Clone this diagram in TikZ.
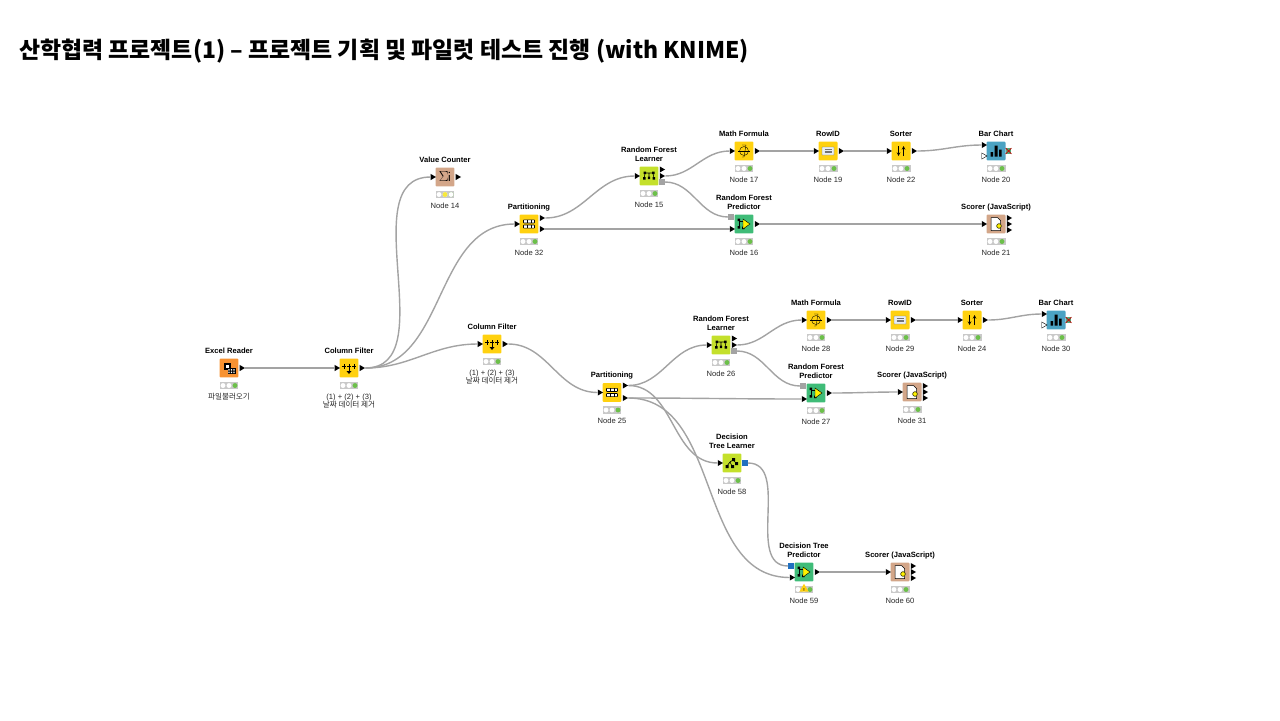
\documentclass[tikz,border=0pt]{standalone}
\usepackage{fontspec}
\setmainfont{Liberation Sans}
\newfontfamily\krfont{Noto Sans CJK KR}
\usetikzlibrary{calc,shapes.geometric}
\definecolor{wiregray}{HTML}{A3A3A3}
\definecolor{lampgray}{HTML}{C9C9C9}
\definecolor{lampgreen}{HTML}{6CC04A}
\definecolor{lampyellow}{HTML}{F7E93A}
\definecolor{readerorange}{HTML}{F79232}
\definecolor{manipyellow}{HTML}{FFD10F}
\definecolor{othertan}{HTML}{D3A689}
\definecolor{learnerlime}{HTML}{C4E02B}
\definecolor{predictgreen}{HTML}{3FBC78}
\definecolor{viewblue}{HTML}{4BA3C3}
\definecolor{modelblue}{HTML}{1F6FC0}
\definecolor{rowpale}{HTML}{E8EEF4}
\tikzset{
  kbox/.style={rectangle,rounded corners=1.5pt,minimum size=27pt,inner sep=0pt},
  ktitle/.style={font=\fontsize{10.8}{12.2}\selectfont\bfseries,align=center,anchor=south,inner sep=0pt,text depth=2.4pt},
  klabel/.style={font=\fontsize{10.8}{12}\selectfont,align=center,anchor=north,inner sep=0pt,text=black!85},
  kstate/.style={rectangle,fill=lampgray,minimum width=27pt,minimum height=11pt,inner sep=0pt},
  klamp/.style={circle,fill=white,minimum size=7pt,inner sep=0pt},
  kport/.style={isosceles triangle,isosceles triangle apex angle=60,fill=black,minimum height=7.5pt,inner sep=0pt},
  kopen/.style={kport,fill=white,draw=black,line width=.6pt},
  ksquare/.style={rectangle,minimum size=8pt,inner sep=0pt},
  wire/.style={draw=wiregray,line width=2pt,out=0,in=180},
  glyph/.style={line width=.9pt,black},
}
% box, state lamps and both captions of one workflow node
\newcommand{\knode}[6]{
  \node[kbox,fill=#4] (#1) at (#2,#3) {};
  \node[ktitle] (#1-title) at ($(#1.center)+(0,-12.8)$) {#5};
  \node[kstate] (#1-t) at ($(#1.center)+(0,17.5)$) {};
  \node[klamp] (#1-a) at ($(#1-t.center)+(-6,0)$) {};
  \node[klamp] (#1-b) at (#1-t.center) {};
  \node[klamp,fill=lampgreen] (#1-c) at ($(#1-t.center)+(6,0)$) {};
  \node[klabel] (#1-label) at ($(#1.center)+(0,25.5)$) {#6};
}
\newcommand{\inport}[3]{\node[kport,anchor=center] (#1) at ($(#2.center)+(-12.5,#3)$) {};}
\newcommand{\outport}[3]{\node[kport,anchor=center] (#1) at ($(#2.center)+(12.5,#3)$) {};}
% icons, drawn round the centre of a box
\newcommand{\iconfilter}[1]{\begin{scope}[shift={(#1)},glyph]
  \draw (-5,-4) -- (-5,1) (0,-4) -- (0,4) (5,-4) -- (5,1) (-7,-1.5) -- (-3,-1.5) (-2,-1.5) -- (2,-1.5) (3,-1.5) -- (7,-1.5);
  \fill (-2.5,3) -- (2.5,3) -- (0,6) -- cycle;
\end{scope}}
\newcommand{\iconparts}[1]{\begin{scope}[shift={(#1)}]
  \draw[fill=white,line width=.8pt,rounded corners=.6pt] (-5.5,-4.2) rectangle (5.5,-1) (-5.5,1) rectangle (5.5,4.2);
  \draw[line width=.6pt] (-1.8,-4.2) -- (-1.8,-1) (1.8,-4.2) -- (1.8,-1) (-1.8,1) -- (-1.8,4.2) (1.8,1) -- (1.8,4.2);
\end{scope}}
\newcommand{\icontree}[1]{\begin{scope}[shift={(#1)},glyph]
  \draw (-2,-1) -- (1,-3) -- (4,0) (-2,-1) -- (-5,3) (-2,-1) -- (0,3);
  \fill (0,-5) rectangle (3,-2) (-6.5,2) rectangle (-3.5,5) (-1,2) rectangle (2,5) (3,-1) rectangle (6,2);
\end{scope}}
\newcommand{\iconforest}[1]{\begin{scope}[shift={(#1)},glyph,line width=.8pt]
  \draw (-3,-3) -- (3,-3) (-4,-3) -- (-5,3) (4,-3) -- (5,3) (0,-3) -- (0,2);
  \fill (-5.5,-4.5) rectangle (-3,-2) (3,-4.5) rectangle (5.5,-2) (-6,1) rectangle (-3.5,3.5) (3.5,1) rectangle (6,3.5) (-1.2,.5) rectangle (1.2,3);
\end{scope}}
\newcommand{\iconpredict}[1]{\begin{scope}[shift={(#1)},glyph,line width=.7pt]
  \draw (-5,-4) -- (-5,4) (-5,-3) -- (-1,-3);
  \fill (-6.5,-5.5) rectangle (-4,-3) (-6.5,2) rectangle (-4,4.5) (-2,2.5) rectangle (.5,5);
  \draw[fill=yellow,line width=.6pt] (-1,-5) -- (6,0) -- (-1,5) -- cycle;
\end{scope}}
\newcommand{\iconscorer}[1]{\begin{scope}[shift={(#1)}]
  \draw[fill=white,line width=.7pt] (-5,-6.5) -- (1.5,-6.5) -- (4.5,-3.5) -- (4.5,6.5) -- (-5,6.5) -- cycle;
  \node[star,star points=8,fill=yellow,draw=black,line width=.4pt,minimum size=8pt,inner sep=0pt] (#1-star) at (3,2) {};
\end{scope}}
\newcommand{\iconbars}[1]{\begin{scope}[shift={(#1)}]
  \fill[black] (-5.5,1) rectangle (-3,5.5) (-1.5,-5.5) rectangle (1.5,5.5) (3,-1.5) rectangle (5.5,5.5);
\end{scope}}
\newcommand{\iconsort}[1]{\begin{scope}[shift={(#1)},glyph,line width=1.3pt,>=stealth]
  \draw[->] (-2.5,-5) -- (-2.5,5);
  \draw[->] (2.5,5) -- (2.5,-5);
\end{scope}}
\newcommand{\iconmath}[1]{\begin{scope}[shift={(#1)},glyph,line width=.5pt]
  \draw (0,0) circle (4.5);
  \draw (-2,-6) -- (2,-6) -- (0,6) -- (-2,6);
  \draw (-6,0) -- (6,0);
\end{scope}}
\newcommand{\iconrow}[1]{\begin{scope}[shift={(#1)}]
  \draw[draw=black!55,fill=rowpale,line width=.5pt,rounded corners=.5pt] (-6,-4) rectangle (6,4);
  \draw[black!55,line width=.5pt] (-3.5,-1.5) -- (3.5,-1.5) (-3.5,0) -- (3.5,0) (-3.5,1.5) -- (3.5,1.5);
\end{scope}}
\newcommand{\iconsheet}[1]{\begin{scope}[shift={(#1)}]
  \fill[black] (-5.5,-5) rectangle (2,2);
  \fill[white] (-3.5,-3) rectangle (0,0);
  \fill[black] (-1,0) rectangle (7,6);
  \foreach \i in {0,2.5,5}{\fill[white] (\i-.6,1) rectangle (\i+.6,2.6) (\i-.6,3.5) rectangle (\i+.6,5.1);}
\end{scope}}
\begin{document}
\begin{tikzpicture}[x=.05cm,y=-.05cm]
  \useasboundingbox (0,0) rectangle (1280,720);
  \node[anchor=west,inner sep=0pt,font=\krfont\bfseries\fontsize{32.6}{36}\selectfont] (heading) at (19,51)
    {산학협력 프로젝트(1) – 프로젝트 기획 및 파일럿 테스트 진행 (with KNIME)};

  % first row
  \knode{reader}{229}{368}{readerorange}{Excel Reader}{\krfont 파일불러오기}
  \knode{filterA}{349}{368}{manipyellow}{Column Filter}{(1) + (2) + (3)\\\krfont 날짜 데이터 제거}
  \knode{n14}{445}{177}{othertan}{Value Counter}{Node 14}
  \knode{n32}{529}{224}{manipyellow}{Partitioning}{Node 32}
  \knode{n15}{649}{176}{learnerlime}{Random Forest\\Learner}{Node 15}
  \knode{n16}{744}{224}{predictgreen}{Random Forest\\Predictor}{Node 16}
  \knode{n17}{744}{151}{manipyellow}{Math Formula}{Node 17}
  \knode{n19}{828}{151}{manipyellow}{RowID}{Node 19}
  \knode{n22}{901}{151}{manipyellow}{Sorter}{Node 22}
  \knode{n20}{996}{151}{viewblue}{Bar Chart}{Node 20}
  \knode{n21}{996}{224}{othertan}{Scorer (JavaScript)}{Node 21}
  % second row
  \knode{filterB}{492}{344}{manipyellow}{Column Filter}{(1) + (2) + (3)\\\krfont 날짜 데이터 제거}
  \knode{n25}{612}{392.5}{manipyellow}{Partitioning}{Node 25}
  \knode{n26}{721}{345}{learnerlime}{Random Forest\\Learner}{Node 26}
  \knode{n27}{816}{393}{predictgreen}{Random Forest\\Predictor}{Node 27}
  \knode{n28}{816}{320}{manipyellow}{Math Formula}{Node 28}
  \knode{n29}{900}{320}{manipyellow}{RowID}{Node 29}
  \knode{n24}{972}{320}{manipyellow}{Sorter}{Node 24}
  \knode{n30}{1056}{320}{viewblue}{Bar Chart}{Node 30}
  \knode{n31}{912}{392}{othertan}{Scorer (JavaScript)}{Node 31}
  % decision tree
  \knode{n58}{732}{463}{learnerlime}{Decision\\Tree Learner}{Node 58}
  \knode{n59}{804}{572}{predictgreen}{Decision Tree\\Predictor}{Node 59}
  \knode{n60}{900}{572}{othertan}{Scorer (JavaScript)}{Node 60}

  % state lamps that differ
  \node[klamp] (n14-c2) at (n14-c) {};
  \node[klamp,fill=lampyellow] (n14-b2) at (n14-b) {};
  \node[regular polygon,regular polygon sides=3,fill=manipyellow,minimum size=15pt,inner sep=0pt] (n59-warn) at ($(n59-t.center)+(0,-.5)$) {};
  \node[font=\fontsize{6}{6}\selectfont\bfseries,inner sep=0pt] (n59-mark) at ($(n59-t.center)+(0,.5)$) {!};

  % icons
  \iconsheet{reader}
  \iconfilter{filterA} \iconfilter{filterB}
  \node[font=\fontsize{20}{20}\selectfont,inner sep=0pt] (n14-sum) at (n14) {$\Sigma$\hspace{-1pt}\textsf{i}};
  \iconparts{n32} \iconparts{n25}
  \iconforest{n15} \iconforest{n26}
  \icontree{n58}
  \iconpredict{n16} \iconpredict{n27} \iconpredict{n59}
  \iconmath{n17} \iconmath{n28}
  \iconrow{n19} \iconrow{n29}
  \iconsort{n22} \iconsort{n24}
  \iconbars{n20} \iconbars{n30}
  \iconscorer{n21} \iconscorer{n31} \iconscorer{n60}

  % ports
  \outport{reader-o}{reader}{0}
  \inport{filterA-i}{filterA}{0} \outport{filterA-o}{filterA}{0}
  \inport{n14-i}{n14}{0} \outport{n14-o}{n14}{0}
  \inport{n32-i}{n32}{0} \outport{n32-o}{n32}{-6} \outport{n32-p}{n32}{5}
  \inport{n15-i}{n15}{0} \outport{n15-o}{n15}{-6.5} \outport{n15-p}{n15}{0}
  \node[ksquare,fill=wiregray] (n15-m) at ($(n15.center)+(13,6)$) {};
  \inport{n16-i}{n16}{5} \outport{n16-o}{n16}{0}
  \node[ksquare,fill=wiregray] (n16-m) at ($(n16.center)+(-13,-7)$) {};
  \inport{n17-i}{n17}{0} \outport{n17-o}{n17}{0}
  \inport{n19-i}{n19}{0} \outport{n19-o}{n19}{0}
  \inport{n22-i}{n22}{0} \outport{n22-o}{n22}{0}
  \inport{n20-i}{n20}{-6} \node[kopen,anchor=center] (n20-open) at ($(n20.center)+(-12.5,5)$) {};
  \inport{n21-i}{n21}{0} \outport{n21-a}{n21}{-6} \outport{n21-b}{n21}{0} \outport{n21-c}{n21}{6}

  \inport{filterB-i}{filterB}{0} \outport{filterB-o}{filterB}{0}
  \inport{n25-i}{n25}{0} \outport{n25-o}{n25}{-7} \outport{n25-p}{n25}{5.5}
  \inport{n26-i}{n26}{0} \outport{n26-o}{n26}{-6.5} \outport{n26-p}{n26}{0}
  \node[ksquare,fill=wiregray] (n26-m) at ($(n26.center)+(13,6)$) {};
  \inport{n27-i}{n27}{6} \outport{n27-o}{n27}{0}
  \node[ksquare,fill=wiregray] (n27-m) at ($(n27.center)+(-13,-7)$) {};
  \inport{n28-i}{n28}{0} \outport{n28-o}{n28}{0}
  \inport{n29-i}{n29}{0} \outport{n29-o}{n29}{0}
  \inport{n24-i}{n24}{0} \outport{n24-o}{n24}{0}
  \inport{n30-i}{n30}{-6} \node[kopen,anchor=center] (n30-open) at ($(n30.center)+(-12.5,5)$) {};
  \inport{n31-i}{n31}{0} \outport{n31-a}{n31}{-6} \outport{n31-b}{n31}{0} \outport{n31-c}{n31}{6}

  \inport{n58-i}{n58}{0}
  \node[ksquare,fill=modelblue] (n58-m) at ($(n58.center)+(13,0)$) {};
  \node[ksquare,fill=modelblue] (n59-m) at ($(n59.center)+(-13,-6)$) {};
  \inport{n59-i}{n59}{5.5} \outport{n59-o}{n59}{0}
  \inport{n60-i}{n60}{0} \outport{n60-a}{n60}{-6} \outport{n60-b}{n60}{0} \outport{n60-c}{n60}{6}

  % red cross of the image port on the bar charts
  \node[ksquare,fill=predictgreen!70!gray] (n20-x) at ($(n20.center)+(12.5,0)$) {};
  \draw[red!80!black,line width=1pt] (n20-x.north west) -- (n20-x.south east) (n20-x.north east) -- (n20-x.south west);
  \node[ksquare,fill=predictgreen!70!gray] (n30-x) at ($(n30.center)+(12.5,0)$) {};
  \draw[red!80!black,line width=1pt] (n30-x.north west) -- (n30-x.south east) (n30-x.north east) -- (n30-x.south west);

  % connections
  \draw[wire] (reader-o) to (filterA-i);
  \draw[wire] (filterA-o) to (n14-i);
  \draw[wire] (filterA-o) to (n32-i);
  \draw[wire] (filterA-o) to (filterB-i);
  \draw[wire] (n32-o) to (n15-i);
  \draw[wire] (n32-p) to (n16-i);
  \draw[wire] (n15-p) to (n17-i);
  \draw[wire] (n15-m) to (n16-m);
  \draw[wire] (n17-o) to (n19-i);
  \draw[wire] (n19-o) to (n22-i);
  \draw[wire] (n22-o) to (n20-i);
  \draw[wire] (n16-o) to (n21-i);
  \draw[wire] (filterB-o) to (n25-i);
  \draw[wire] (n25-o) to (n26-i);
  \draw[wire] (n25-p) to (n27-i);
  \draw[wire] (n25-o) to (n58-i);
  \draw[wire] (n25-p) to (n59-i);
  \draw[wire] (n26-p) to (n28-i);
  \draw[wire] (n26-m) to (n27-m);
  \draw[wire] (n28-o) to (n29-i);
  \draw[wire] (n29-o) to (n24-i);
  \draw[wire] (n24-o) to (n30-i);
  \draw[wire] (n27-o) to (n31-i);
  \draw[wire] (n58-m) to (n59-m);
  \draw[wire] (n59-o) to (n60-i);
\end{tikzpicture}
\end{document}
